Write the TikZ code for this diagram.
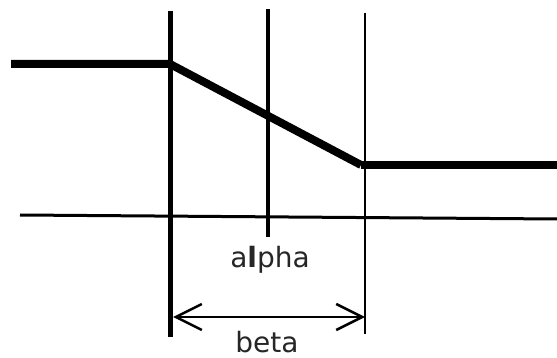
\documentclass[tikz,border=0pt]{standalone}
\usepackage{fontspec}
\setmainfont{DejaVu Sans}
\usetikzlibrary{arrows.meta}
\begin{document}
\begin{tikzpicture}[x=1pt,y=-1pt,
  thickline/.style={line width=8pt},
  vline/.style={line width=#1},
  lbl/.style={font=\fontsize{28}{30}\selectfont, text=black!85, inner sep=0pt, anchor=base},
  dim/.style={line width=2.5pt, {Straight Barb[length=26pt,width=26pt,line width=2.5pt]}-{Straight Barb[length=26pt,width=26pt,line width=2.5pt]}}]
\useasboundingbox (0,0) rectangle (557,358);
% key points
\coordinate (l0) at (11,64);
\coordinate (l1) at (170,64);
\coordinate (r0) at (361,165);
\coordinate (r1) at (557,165);
% vertical lines
\coordinate (v1t) at (170,11);
\coordinate (v1b) at (170,337);
\coordinate (v2t) at (268,9);
\coordinate (v2b) at (268,237);
\coordinate (v3t) at (365,13);
\coordinate (v3b) at (365,334);
% axis
\coordinate (a0) at (20,215);
\coordinate (a1) at (557,219);
% dimension arrow
\coordinate (d0) at (173,317);
\coordinate (d1) at (365,317);

\draw[vline=3pt] (a0) -- (a1);
\draw[vline=5pt] (v1t) -- (v1b);
\draw[vline=4.5pt] (v2t) -- (v2b);
\draw[vline=2.5pt] (v3t) -- (v3b);
\draw[thickline, line join=miter] (l0) -- (l1) -- (r0);
\draw[thickline] (r0) -- (r1);
\draw[dim] (d0) -- (d1);
\node[lbl] (alpha) at (270,267) {a{\bfseries l}pha};
\node[lbl] (beta) at (267,352) {beta};
\end{tikzpicture}
\end{document}
